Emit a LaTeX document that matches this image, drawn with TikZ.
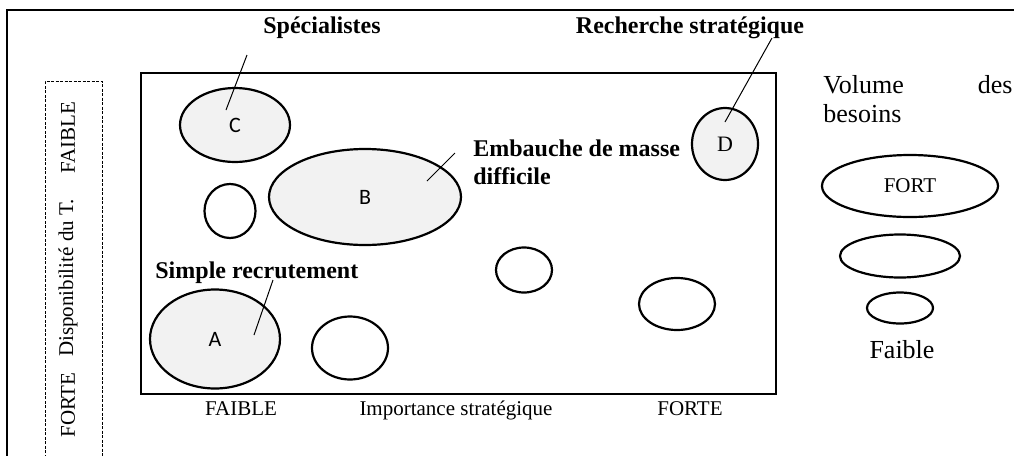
\documentclass[tikz,border=0pt]{standalone}
\usepackage{fontspec}
\setmainfont{Liberation Serif}
\newfontfamily\lettersf{Carlito}
\usetikzlibrary{shapes.geometric}
\definecolor{paleshade}{RGB}{242,242,242}

\begin{document}
\begin{tikzpicture}[x=0.5pt,y=-0.5pt,font=\fontsize{10.5}{12}\selectfont]
\tikzset{
% Two ellipse styles for the groups: shaded and empty
full node/.style={ellipse,draw,line width=1.1pt,fill=paleshade,inner sep=0,font=\lettersf\fontsize{11}{12}\selectfont},
empty node/.style={ellipse,draw,line width=1.1pt,inner sep=0},
title/.style={font=\fontsize{12}{14}\selectfont\bfseries,inner sep=0},
lead/.style={line width=0.5pt},
big text/.style={font=\fontsize{13}{15}\selectfont,inner sep=0}
}
\useasboundingbox (0,0) rectangle (1014,456);
\clip (0,0) rectangle (1014,456);

% Frames
\draw[line width=1pt] (7,480) -- (7,10) -- (1040,10);
\draw[line width=0.5pt,dash pattern=on 1.5pt off 0.75pt] (45,480) -- (45,81) -- (102,81) -- (102,480);
\draw[line width=1.1pt] (141,73) rectangle (776,394);

% Vertical axis
\node[rotate=90] (faible v) at (68,138) {FAIBLE};
\node[rotate=90] (dispo) at (68,278) {Disponibilité du T.};
\node[rotate=90] (forte v) at (68,405) {FORTE};

% Horizontal axis
\node[anchor=base] (faible h) at (241,415) {FAIBLE};
\node[anchor=base] (importance) at (456,415) {Importance stratégique};
\node[anchor=base] (forte h) at (690,415) {FORTE};

% The groups
\node(C)[full node,minimum width=55pt,minimum height=37pt] at (235,125) {C};
\node(B)[full node,minimum width=96pt,minimum height=48pt] at (365,197) {B};
\node(A)[full node,minimum width=65pt,minimum height=49.5pt] at (215,339) {A};
\node(D)[full node,font=\fontsize{11}{12}\selectfont,minimum width=33pt,minimum height=36pt] at (725,144) {D};
\node(e1)[empty node,minimum width=25.5pt,minimum height=27pt] at (230,211) {};
\node(e2)[empty node,minimum width=38pt,minimum height=31.5pt] at (350,348) {};
\node(e3)[empty node,minimum width=28pt,minimum height=22.5pt] at (524,270) {};
\node(e4)[empty node,minimum width=38pt,minimum height=26pt] at (677,304) {};

% Names of the groups
\node(spec)[title,anchor=base] at (322,33) {Spécialistes};
\node(rech)[title,anchor=base] at (690,33) {Recherche stratégique};
\node(masse)[title,anchor=north west,align=left] at (473,139) {Embauche de masse\\difficile};
\node(simple)[title,anchor=base west] at (155,278) {Simple recrutement};

\coordinate (c1) at (247,55); \coordinate (c2) at (226,110);
\coordinate (d1) at (772,38); \coordinate (d2) at (725,122);
\coordinate (b1) at (455,153); \coordinate (b2) at (427,181);
\coordinate (a1) at (273,280); \coordinate (a2) at (254,335);
\draw[lead] (c1) -- (c2);
\draw[lead] (d1) -- (d2);
\draw[lead] (b1) -- (b2);
\draw[lead] (a1) -- (a2);

% Legend
\node(vol)[big text,anchor=base west] at (823,93) {Volume};
\node(des)[big text,anchor=base east] at (1013,93) {des};
\node(bes)[big text,anchor=base west] at (823,122) {besoins};
\node(fort)[empty node,minimum width=88pt,minimum height=31pt] at (910,186) {FORT};
\node(mid)[empty node,minimum width=60pt,minimum height=21.5pt] at (900,256) {};
\node(low)[empty node,minimum width=33pt,minimum height=15.5pt] at (900,308) {};
\node(faible)[big text,anchor=base] at (902,358) {Faible};
\end{tikzpicture}
\end{document}
